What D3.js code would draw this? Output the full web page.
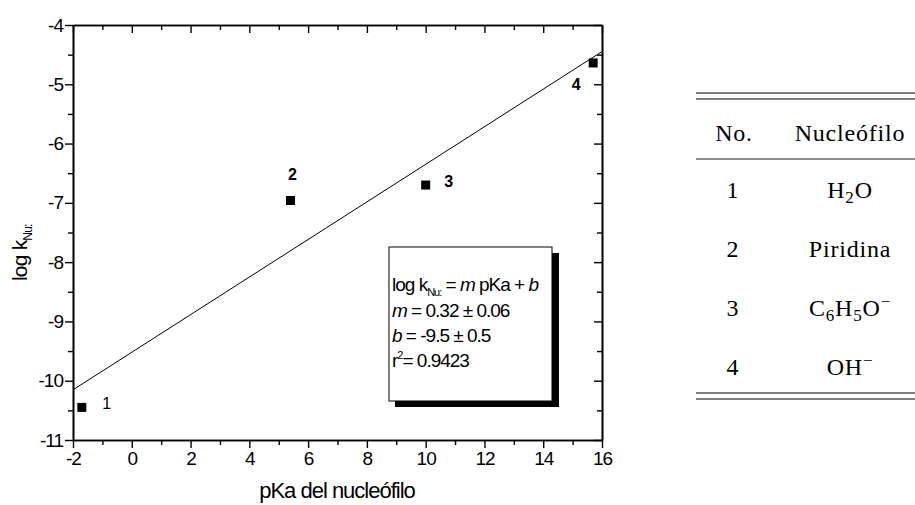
<!DOCTYPE html>
<html>
<head>
<meta charset="utf-8">
<script src="https://cdn.jsdelivr.net/npm/d3@7"></script>
<style>
  body { margin: 0; background: #fff; }
  svg { display: block; }
</style>
</head>
<body>
<div id="chart"></div>
<script>
// data
var pKa = [-1.7, 5.4, 10.0, 15.7];
var logK = [-10.45, -6.96, -6.70, -4.64];
var pointLabels = ['1', '2', '3', '4'];
var fitSlope = 0.317;
var fitIntercept = -9.52;
var xTicks = [-2, 0, 2, 4, 6, 8, 10, 12, 14, 16];
var xMinorTicks = [-1, 1, 3, 5, 7, 9, 11, 13, 15];
var yTicks = [-11, -10, -9, -8, -7, -6, -5, -4];
var yMinorTicks = [-10.5, -9.5, -8.5, -7.5, -6.5, -5.5, -4.5];
var tableNo = ['1', '2', '3', '4'];
var tableNu = [['H', '2', 'O'], ['Piridina'], ['C', '6', 'H', '5', 'O', '−'], ['OH', '−']];

// label placement (pixels relative to the marker)
var labelDx = [25, 2, 23, -17];
var labelDy = [2, -20, 2, 27];
var labelWeight = ['normal', 'bold', 'bold', 'bold'];

var svg = d3.select('#chart').append('svg')
	.attr('width', 915)
	.attr('height', 505);

var x = d3.scaleLinear().domain([-2, 16]).range([73, 602]);
var y = d3.scaleLinear().domain([-11, -4]).range([440, 25]);

var plotGroup = svg.append('g');
var axisGroup = svg.append('g');
var tableGroup = svg.append('g');

var sans = 'Liberation Sans, Arial, sans-serif';

//Fit line
plotGroup.append('line')
	.attr('x1', x(-2))
	.attr('y1', y(fitSlope * -2 + fitIntercept))
	.attr('x2', x(16))
	.attr('y2', y(fitSlope * 16 + fitIntercept))
	.attr('stroke', '#000')
	.attr('stroke-width', 1);

//Points
plotGroup.selectAll('rect.pt')
	.data(pKa)
	.enter()
	.append('rect')
	.attr('class', 'pt')
	.attr('x', function(d) { return x(d) - 4.5; })
	.attr('y', function(d, i) { return y(logK[i]) - 4.5; })
	.attr('width', 9)
	.attr('height', 9)
	.attr('fill', '#000');

plotGroup.selectAll('text.lbl')
	.data(pointLabels)
	.enter()
	.append('text')
	.attr('class', 'lbl')
	.attr('x', function(d, i) { return x(pKa[i]) + labelDx[i]; })
	.attr('y', function(d, i) { return y(logK[i]) + labelDy[i]; })
	.attr('text-anchor', 'middle')
	.attr('font-family', sans)
	.attr('font-size', '16px')
	.attr('font-weight', function(d, i) { return labelWeight[i]; })
	.text(function(d) { return d; });

//Axes
function styleAxis(g) {
	g.select('.domain').attr('stroke-width', 1.6);
	g.selectAll('.tick line').attr('stroke-width', 1.4);
	g.selectAll('.tick text')
		.attr('font-family', sans)
		.attr('font-size', '19px')
		.attr('letter-spacing', '-1px')
		.attr('fill', '#000');
}

axisGroup.append('g')
	.attr('transform', 'translate(0,440)')
	.call(d3.axisBottom(x).tickValues(xTicks).tickSize(8).tickSizeOuter(0).tickPadding(4)
		.tickFormat(function(d) { return String(d); }))
	.call(styleAxis);
axisGroup.append('g')
	.attr('transform', 'translate(0,440)')
	.call(d3.axisBottom(x).tickValues(xMinorTicks).tickSize(5).tickSizeOuter(0).tickFormat(''))
	.call(styleAxis);

axisGroup.append('g')
	.attr('transform', 'translate(0,25)')
	.call(d3.axisBottom(x).tickValues(xTicks).tickSize(8).tickSizeOuter(0).tickFormat(''))
	.call(styleAxis);
axisGroup.append('g')
	.attr('transform', 'translate(0,25)')
	.call(d3.axisBottom(x).tickValues(xMinorTicks).tickSize(5).tickSizeOuter(0).tickFormat(''))
	.call(styleAxis);

axisGroup.append('g')
	.attr('transform', 'translate(73,0)')
	.call(d3.axisLeft(y).tickValues(yTicks).tickSize(8).tickSizeOuter(0).tickPadding(2)
		.tickFormat(function(d) { return String(d); }))
	.call(styleAxis);
axisGroup.append('g')
	.attr('transform', 'translate(73,0)')
	.call(d3.axisLeft(y).tickValues(yMinorTicks).tickSize(5).tickSizeOuter(0).tickFormat(''))
	.call(styleAxis);

axisGroup.append('g')
	.attr('transform', 'translate(602,0)')
	.call(d3.axisRight(y).tickValues(yTicks).tickSize(-8).tickSizeOuter(0).tickFormat(''))
	.call(styleAxis);
axisGroup.append('g')
	.attr('transform', 'translate(602,0)')
	.call(d3.axisRight(y).tickValues(yMinorTicks).tickSize(-5).tickSizeOuter(0).tickFormat(''))
	.call(styleAxis);

//Axis titles
svg.append('text')
	.attr('x', 337)
	.attr('y', 498)
	.attr('text-anchor', 'middle')
	.attr('font-family', sans)
	.attr('font-size', '22px')
	.attr('letter-spacing', '-1px')
	.text('pKa del nucleófilo');

var yTitle = svg.append('text')
	.attr('transform', 'translate(27,281) rotate(-90)')
	.attr('font-family', sans)
	.attr('font-size', '21px')
	.attr('letter-spacing', '-0.8px');
yTitle.append('tspan').text('log k');
yTitle.append('tspan').attr('font-size', '12px').attr('dy', 5).text('Nu:');

//Equation box
var bx = 389, by = 247, bw = 163, bh = 154;
plotGroup.append('rect')
	.attr('x', bx + 6).attr('y', by + 6)
	.attr('width', bw + 1).attr('height', bh)
	.attr('fill', '#000');
plotGroup.append('rect')
	.attr('x', bx).attr('y', by)
	.attr('width', bw).attr('height', bh)
	.attr('fill', '#fff')
	.attr('stroke', '#000')
	.attr('stroke-width', 1);

function eqLine(yy) {
	return plotGroup.append('text').attr('x', bx + 3).attr('y', yy)
		.attr('font-family', sans).attr('font-size', '19px').attr('letter-spacing', '-1px');
}
var eq1 = eqLine(291);
eq1.append('tspan').text('log k');
eq1.append('tspan').attr('font-size', '11px').attr('dy', 5).text('Nu:');
eq1.append('tspan').attr('dy', -5).text(' = ');
eq1.append('tspan').attr('font-style', 'italic').text('m');
eq1.append('tspan').text(' pKa + ');
eq1.append('tspan').attr('font-style', 'italic').text('b');

var eq2 = eqLine(317);
eq2.append('tspan').attr('font-style', 'italic').text('m');
eq2.append('tspan').text(' = ' + fitSlope.toFixed(2) + ' ± 0.06');

var eq3 = eqLine(342);
eq3.append('tspan').attr('font-style', 'italic').text('b');
eq3.append('tspan').text('  = -9.5  ± 0.5');

var eq4 = eqLine(367);
eq4.append('tspan').text('r');
eq4.append('tspan').attr('font-size', '11px').attr('dy', -8).text('2');
eq4.append('tspan').attr('dy', 8).text('= 0.9423');

//Table
var tFont = 'Liberation Serif, Times New Roman, serif';
[93, 99, 393, 399].forEach(function(ly) {
	tableGroup.append('line')
		.attr('x1', 696).attr('x2', 915)
		.attr('y1', ly).attr('y2', ly)
		.attr('stroke', '#000').attr('stroke-width', 1.2);
});
tableGroup.append('line')
	.attr('x1', 696).attr('x2', 915)
	.attr('y1', 159).attr('y2', 159)
	.attr('stroke', '#000').attr('stroke-width', 0.9);

function tText(xx, yy) {
	return tableGroup.append('text')
		.attr('x', xx).attr('y', yy)
		.attr('text-anchor', 'middle')
		.attr('font-family', tFont).attr('font-size', '24px')
		.attr('letter-spacing', '0.8px');
}
tText(734, 141).text('No.');
tText(850, 141).text('Nucleófilo');

var rowY = d3.scaleLinear().domain([0, 3]).range([198, 375]);

tableNo.forEach(function(d, i) {
	tText(733, rowY(i)).text(d);
});

tableNu.forEach(function(parts, i) {
	var t = tText(850, rowY(i));
	var shift = 0;
	parts.forEach(function(p) {
		var ts = t.append('tspan');
		var target;
		if (p === '−') target = -9;
		else if (/^[0-9]$/.test(p)) target = 5;
		else target = 0;
		ts.attr('dy', target - shift);
		if (target !== 0) ts.attr('font-size', '17px');
		shift = target;
		ts.text(p);
	});
});
</script>
</body>
</html>
